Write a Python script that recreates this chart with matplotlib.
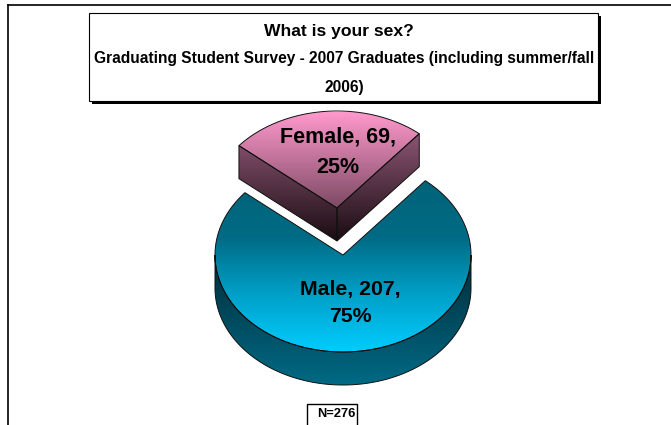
import numpy as np
import matplotlib
matplotlib.use('Agg')
from matplotlib import pyplot as plt
from matplotlib.colors import LinearSegmentedColormap
from matplotlib.patches import Polygon, Rectangle

plt.rcParams['font.family'] = ['Liberation Sans', 'DejaVu Sans']

categories = ['Male', 'Female']
counts = [207, 69]
percents = ['75%', '25%']
title = 'What is your sex?'
subtitle = 'Graduating Student Survey - 2007 Graduates (including summer/fall\n2006)'
n_label = 'N=276'

fig = plt.figure(figsize=(6.71, 4.25), dpi=100)
ax = fig.add_axes([0, 0, 1, 1])


def gradient(verts, y0, y1, colors):
    # vertical gradient clipped to the polygon
    cmap = LinearSegmentedColormap.from_list('g', colors)
    patch = Polygon(verts, closed=True, fc='none', ec='#101010', lw=0.7, zorder=3)
    ax.add_patch(patch)
    im = ax.imshow(np.linspace(0, 1, 256).reshape(-1, 1), cmap=cmap, aspect='auto',
                   extent=[0, 671, y1, y0], zorder=2)
    im.set_clip_path(patch)


def arc(cx, cy, t0, t1):
    t = np.radians(np.linspace(t0, t1, 200))
    return np.column_stack([cx + rx * np.cos(t), cy - ry * np.sin(t)])


rx, ry, depth = 128, 97, 33
gap_start = 50
female_sweep = 360 * counts[1] / sum(counts)
gap_end = gap_start + female_sweep

# Male slice
mx, my = 343, 255
side = np.vstack([arc(mx, my, 180, 360), arc(mx, my + depth, 360, 180)])
gradient(side, 265, 385, ['#00303e', '#006a85'])
top = np.vstack([[[mx, my]], arc(mx, my, gap_end, 360 + gap_start)])
gradient(top, 180, 352, ['#006378', '#006b85', '#00a0c8', '#00ccff'])

# Female slice, pulled out of the pie
fx, fy = 337, 208
for t in [gap_end, gap_start]:
    edge = arc(fx, fy, t, t)[0]
    face = [edge, (fx, fy), (fx, fy + depth), (edge[0], edge[1] + depth)]
    gradient(face, 135, 241, ['#8a5572', '#1a0c12'])
top = np.vstack([[[fx, fy]], arc(fx, fy, gap_start, gap_end)])
gradient(top, 112, 208, ['#ff99cc', '#7c4a64'])

ax.text(338, 152, f'{categories[1]}, {counts[1]},\n{percents[1]}', ha='center', va='center',
        fontsize=15.5, fontweight='bold', linespacing=1.58, zorder=5)
ax.text(350, 303, f'{categories[0]}, {counts[0]},\n{percents[0]}', ha='center', va='center',
        fontsize=15.3, fontweight='bold', linespacing=1.6, zorder=5)

# Outer frame
ax.plot([8, 8], [425, 5], color='black', lw=1.2, zorder=1)
ax.plot([8, 671], [5, 5], color='black', lw=1.2, zorder=1)

# Title box with shadow
ax.add_patch(Rectangle((92, 16), 509, 88, fc='black', ec='none', zorder=6))
ax.add_patch(Rectangle((89, 13), 509, 88, fc='white', ec='black', lw=0.8, zorder=7))
ax.text(339, 31, title, ha='center', va='center', fontsize=12.6, fontweight='bold', zorder=8)
ax.text(344, 73, subtitle, ha='center', va='center', fontsize=11.2, fontweight='bold',
        linespacing=2.1, zorder=8)

# N box
ax.add_patch(Rectangle((307, 404), 50, 30, fc='white', ec='black', lw=1, zorder=6))
ax.text(336, 414, n_label, ha='center', va='center', fontsize=9.3, fontweight='bold', zorder=8)

ax.set_xlim(0, 671)
ax.set_ylim(425, 0)
ax.axis('off')
fig.savefig('out.png', dpi=100)
